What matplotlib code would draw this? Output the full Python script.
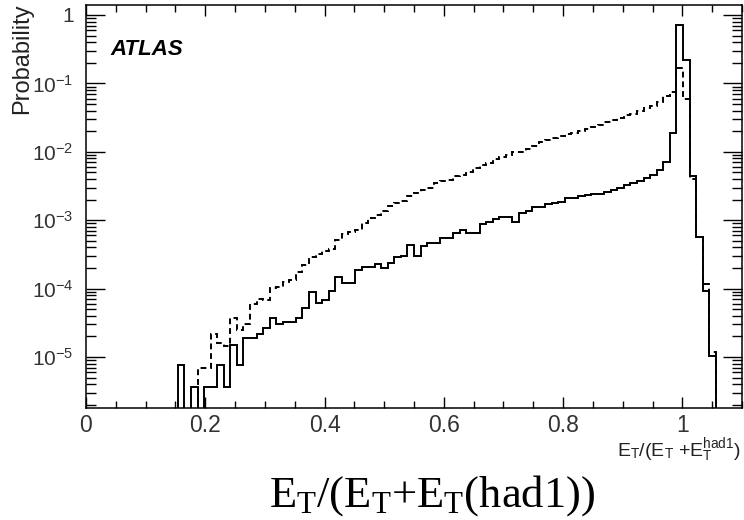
import matplotlib
matplotlib.use('Agg')
import matplotlib.pyplot as plt
import numpy as np
from matplotlib.ticker import LogLocator, MultipleLocator, FuncFormatter, NullFormatter

plt.rcParams['font.family'] = ['Liberation Sans', 'DejaVu Sans']
plt.rcParams['mathtext.fontset'] = 'custom'
plt.rcParams['mathtext.rm'] = 'Liberation Serif'
plt.rcParams['mathtext.sf'] = 'Liberation Sans'
plt.rcParams['mathtext.it'] = 'Liberation Serif:italic'

# histogram binning: 100 bins over [0, 1.1]
N_BINS = 100
X_MIN, X_MAX = 0.0, 1.1

# solid histogram, bins 14..95 (probability per bin)
SOLID_FIRST_BIN = 14
solid_prob = [
    7.6e-6, 0, 3.7e-6, 0, 3.7e-6, 3.7e-6, 7.6e-6, 3.7e-6,            # 14-21
    1.5e-5, 7.6e-6, 1.9e-5, 1.9e-5, 2.2e-5, 2.7e-5, 3.7e-5, 3.0e-5,  # 22-29
    3.3e-5, 3.3e-5, 3.7e-5, 5.2e-5, 8.9e-5, 6.2e-5, 6.9e-5, 9.1e-5,  # 30-37
    1.5e-4, 1.2e-4, 1.2e-4, 1.9e-4, 2.1e-4, 2.1e-4, 2.3e-4, 2.0e-4,  # 38-45
    2.4e-4, 2.9e-4, 3.0e-4, 4.3e-4, 3.0e-4, 4.2e-4, 4.7e-4, 4.7e-4,  # 46-53
    5.5e-4, 5.5e-4, 6.5e-4, 7.1e-4, 6.5e-4, 6.5e-4, 8.9e-4, 9.5e-4,  # 54-61
    1.05e-3, 1.1e-3, 1.1e-3, 9.5e-4, 1.26e-3, 1.35e-3, 1.55e-3, 1.55e-3,  # 62-69
    1.7e-3, 1.78e-3, 1.86e-3, 2.1e-3, 2.1e-3, 2.24e-3, 2.3e-3, 2.4e-3,    # 70-77
    2.4e-3, 2.57e-3, 2.75e-3, 3.0e-3, 3.3e-3, 3.55e-3, 3.8e-3, 4.1e-3,    # 78-85
    4.6e-3, 5.4e-3, 7.2e-3, 1.9e-2, 0.71, 0.22, 4.5e-3, 5.6e-4,           # 86-93
    9.1e-5, 1.05e-5,                                                      # 94-95
]

# dashed histogram, bins 17..95
DASHED_FIRST_BIN = 17
dashed_prob = [
    6.9e-6, 6.9e-6, 2.2e-5, 1.6e-5, 1.45e-5,                          # 17-21
    3.7e-5, 2.45e-5, 3.0e-5, 6.0e-5, 7.1e-5, 6.9e-5, 1.02e-4, 1.07e-4,  # 22-29
    1.23e-4, 1.35e-4, 1.74e-4, 2.24e-4, 2.95e-4, 3.2e-4, 3.5e-4, 3.8e-4,  # 30-37
    5.2e-4, 6.3e-4, 6.8e-4, 7.2e-4, 9.1e-4, 1.07e-3, 1.2e-3, 1.35e-3,     # 38-45
    1.6e-3, 1.78e-3, 1.9e-3, 2.24e-3, 2.5e-3, 2.75e-3, 3.0e-3, 3.55e-3,   # 46-53
    3.8e-3, 3.9e-3, 4.4e-3, 4.6e-3, 5.1e-3, 5.75e-3, 6.5e-3, 6.9e-3,      # 54-61
    7.8e-3, 8.3e-3, 9.1e-3, 9.8e-3, 1.0e-2, 1.1e-2, 1.23e-2, 1.38e-2,     # 62-69
    1.48e-2, 1.58e-2, 1.7e-2, 1.82e-2, 1.9e-2, 2.04e-2, 2.14e-2, 2.3e-2,  # 70-77
    2.45e-2, 2.7e-2, 2.95e-2, 3.16e-2, 3.4e-2, 3.6e-2, 4.0e-2, 4.4e-2,    # 78-85
    4.7e-2, 5.4e-2, 6.6e-2, 7.6e-2, 0.17, 5.9e-2, 4.0e-3, 5.75e-4,        # 86-93
    1.15e-4, 1.2e-5,                                                      # 94-95
]


def full_hist(first_bin, vals):
    h = np.zeros(N_BINS)
    h[first_bin:first_bin + len(vals)] = vals
    # empty bins drop below the log axis, like ROOT does
    return np.where(h > 0, h, 1e-12)


edges = np.linspace(X_MIN, X_MAX, N_BINS + 1)

fig = plt.figure(figsize=(7.44, 5.2), dpi=100)
ax = fig.add_axes([86 / 744, 1 - 408 / 520, (742 - 86) / 744, (408 - 5) / 520])

ax.stairs(full_hist(DASHED_FIRST_BIN, dashed_prob), edges, baseline=None,
          color='black', lw=1.4, linestyle=(0, (3, 2)))
ax.stairs(full_hist(SOLID_FIRST_BIN, solid_prob), edges, baseline=None,
          color='black', lw=1.4)

ax.set_yscale('log')
ax.set_xlim(X_MIN, X_MAX)
ax.set_ylim(1.8e-6, 1.4)

ax.xaxis.set_major_locator(MultipleLocator(0.2))
ax.xaxis.set_minor_locator(MultipleLocator(0.05))
ax.xaxis.set_major_formatter(FuncFormatter(lambda v, p: f'{v:g}'))
ax.yaxis.set_major_locator(LogLocator(base=10, numticks=20))
ax.yaxis.set_minor_locator(LogLocator(base=10, subs=np.arange(2, 10), numticks=20))
ax.yaxis.set_minor_formatter(NullFormatter())
ax.yaxis.set_major_formatter(FuncFormatter(
    lambda v, p: '1' if abs(v - 1) < 1e-9 else r'$\mathdefault{10^{%d}}$' % round(np.log10(v))))

for s in ax.spines.values():
    s.set_linewidth(1.1)
ax.tick_params(which='both', direction='in', top=True, right=True, width=1.0,
               colors='black', labelcolor='#333333')
ax.tick_params(axis='x', which='major', length=8, labelsize=16.5, pad=4)
ax.tick_params(axis='x', which='minor', length=5)
ax.tick_params(axis='y', which='major', length=14, labelsize=15, pad=9)
ax.tick_params(axis='y', which='minor', length=7)

ax.text(0.037, 0.876, 'ATLAS', transform=ax.transAxes, fontsize=16,
        fontweight='bold', fontstyle='italic', va='baseline', ha='left')

fig.text(22 / 744, 1 - 3 / 520, 'Probability', rotation=90, fontsize=17,
         ha='center', va='top', color='#222222')
# small ROOT axis title, lower right
fig.text(741 / 744, 1 - 457 / 520,
         r'E$_\mathsf{T}$/(E$_\mathsf{T}$ +E$_\mathsf{T}^\mathsf{had1}$)',
         fontsize=14, ha='right', va='baseline', color='#222222',
         family='Liberation Sans')
# large caption underneath
fig.text(432 / 744, 1 - 507 / 520,
         r'E$_\mathrm{T}$/(E$_\mathrm{T}$+E$_\mathrm{T}$(had1))',
         fontsize=32, ha='center', va='baseline', color='black',
         family='Liberation Serif')

fig.savefig('out.png', dpi=100)
